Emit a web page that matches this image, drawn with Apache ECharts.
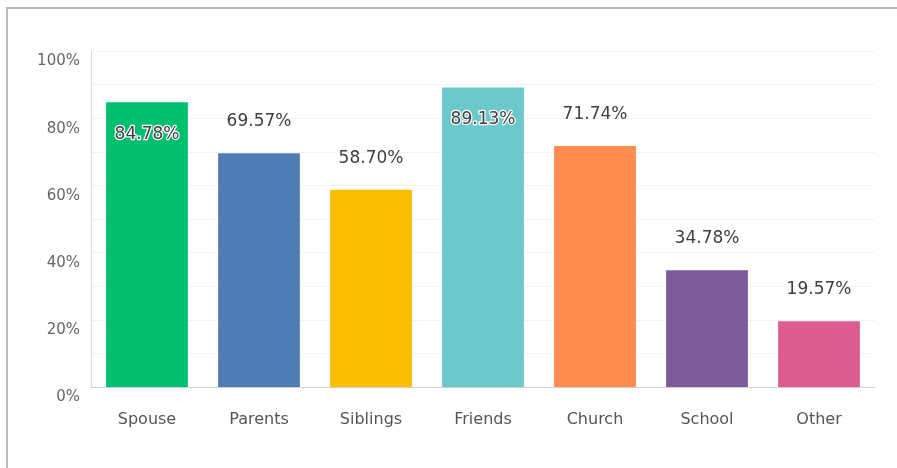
<!DOCTYPE html>
<html>
<head>
<meta charset="utf-8">
<script src="https://cdn.jsdelivr.net/npm/echarts@6/dist/echarts.min.js"></script>
<style>
  html, body { margin: 0; padding: 0; background: #fff; }
  #chart { width: 897px; height: 468px; }
</style>
</head>
<body>
<div id="chart"></div>
<script>
// Who respondents turn to, share of answers (%)
const categories = ['Spouse', 'Parents', 'Siblings', 'Friends', 'Church', 'School', 'Other'];
const values = [84.78, 69.57, 58.70, 89.13, 71.74, 34.78, 19.57];
const barColors = ['#00bf6f', '#507cb6', '#f9be00', '#6bc8cd', '#ff8b4f', '#7d5a9a', '#dc5c91'];
// Bars whose label sits inside the bar top
const insideLabels = ['Spouse', 'Friends'];
const yTicks = [0, 20, 40, 60, 80, 100];

const font = '"DejaVu Sans", "Noto Sans", sans-serif';

const chart = echarts.init(document.getElementById('chart'), null, { renderer: 'canvas' });

const data = values.map((v, i) => {
  const inside = insideLabels.includes(categories[i]);
  return {
    value: v,
    itemStyle: { color: barColors[i] },
    label: inside
      ? { position: 'insideTop', distance: 24, textBorderColor: '#fff', textBorderWidth: 2.5 }
      : { position: 'top', distance: 23 }
  };
});

chart.setOption({
  animation: false,
  textStyle: { fontFamily: font },
  graphic: [{
    type: 'rect',
    shape: { x: 7, y: 8, width: 1000, height: 1000 },
    style: { fill: 'none', stroke: '#b9b9b9', lineWidth: 2 },
    silent: true
  }],
  grid: { left: 91, right: 22, top: 51, bottom: 81, containLabel: false },
  xAxis: {
    type: 'category',
    data: categories,
    axisLine: { show: true, lineStyle: { color: '#cfcfcf', width: 1 } },
    axisTick: { show: false },
    axisLabel: { color: '#555', fontSize: 16, margin: 25, fontFamily: font }
  },
  yAxis: {
    type: 'value',
    min: yTicks[0],
    max: yTicks[yTicks.length - 1],
    interval: 20,
    axisLine: { show: true, lineStyle: { color: '#dcdcdc', width: 1 } },
    axisTick: { show: false },
    splitLine: { show: true, lineStyle: { color: '#f3f3f3', width: 1 } },
    minorTick: { show: false, splitNumber: 2 },
    minorSplitLine: { show: true, lineStyle: { color: '#f3f3f3', width: 1 } },
    axisLabel: {
      color: '#666', fontSize: 15, margin: 11, fontFamily: font,
      verticalAlign: 'top',
      padding: [3, 0, 0, 0],
      formatter: v => v + '%'
    }
  },
  series: [{
    type: 'bar',
    data: data,
    barWidth: '73%',
    label: {
      show: true,
      color: '#404040',
      fontSize: 17,
      fontFamily: font,
      formatter: p => p.value.toFixed(2) + '%'
    }
  }]
});
</script>
</body>
</html>
